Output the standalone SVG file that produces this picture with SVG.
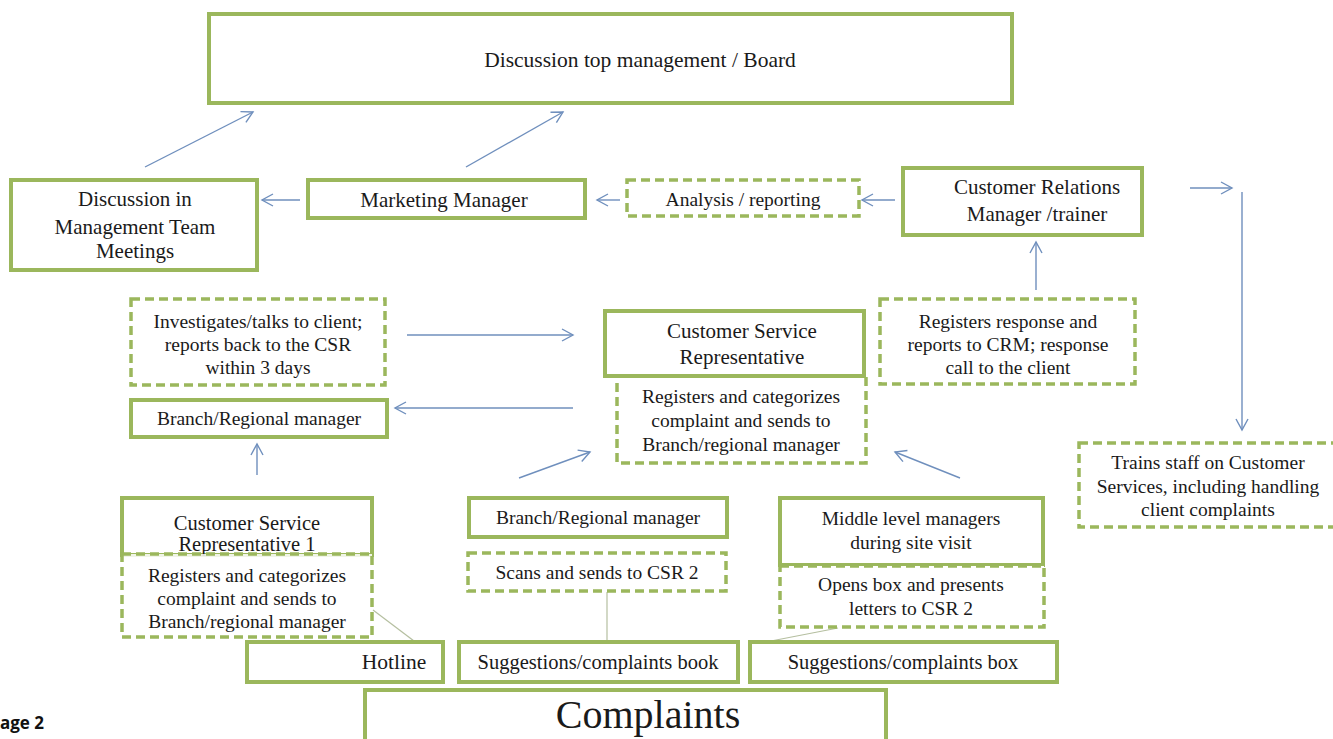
<svg xmlns="http://www.w3.org/2000/svg" width="1333" height="739" viewBox="0 0 1333 739">
<defs>
<marker id="ah" markerUnits="userSpaceOnUse" markerWidth="14" markerHeight="14" refX="12" refY="7" orient="auto" viewBox="0 0 14 14">
<path d="M1,1 L12,7 L1,13" fill="none" stroke="#6f8fbd" stroke-width="1.4"/>
</marker>
<style>
.s{fill:#fff;stroke:#9bb75c;stroke-width:4}
.d{fill:#fff;stroke:#9bb75c;stroke-width:3.5;stroke-dasharray:9 5}
.t{font-family:"Liberation Serif","Times New Roman",serif;font-size:20px;fill:#1a1a1a;text-anchor:middle}
.a{fill:none;stroke:#6f8fbd;stroke-width:1.4;marker-end:url(#ah)}
.g{fill:none;stroke:#b5bfa0;stroke-width:1.2}
</style>
</defs>
<rect width="1333" height="739" fill="#fff"/>

<g id="connectors">
<line class="a" x1="145" y1="167" x2="253" y2="112"/>
<line class="a" x1="466" y1="167" x2="563" y2="112"/>
<line class="a" x1="300" y1="200" x2="262" y2="200"/>
<line class="a" x1="620" y1="200" x2="597" y2="200"/>
<line class="a" x1="895" y1="200" x2="862" y2="200"/>
<line class="a" x1="1190" y1="188" x2="1232" y2="188"/>
<line class="a" x1="1242" y1="192" x2="1242" y2="430"/>
<line class="a" x1="1036" y1="290" x2="1036" y2="242"/>
<line class="a" x1="407" y1="335" x2="573" y2="335"/>
<line class="a" x1="573" y1="408" x2="395" y2="408"/>
<line class="a" x1="257" y1="475" x2="257" y2="444"/>
<line class="a" x1="519" y1="478" x2="590" y2="452"/>
<line class="a" x1="960" y1="478" x2="895" y2="452"/>
<line class="g" x1="373" y1="610" x2="414" y2="641"/>
<line class="g" x1="607" y1="592" x2="607" y2="642"/>
<line class="g" x1="771" y1="641" x2="838" y2="628"/>
</g>

<g id="board"><rect class="s" x="209" y="14" width="803" height="89"/><text class="t" x="640" y="67" style="font-size:21.5px">Discussion top management / Board</text></g>

<g id="mgmt-team"><rect class="s" x="11" y="180" width="246" height="90"/>
<text class="t" x="135" y="206" style="font-size:21px">Discussion in</text>
<text class="t" x="135" y="234" style="font-size:21px">Management Team</text>
<text class="t" x="135" y="258" style="font-size:21px">Meetings</text></g>

<g id="marketing"><rect class="s" x="308" y="180" width="277" height="38"/><text class="t" x="444" y="207" style="font-size:21px">Marketing Manager</text></g>

<g id="analysis"><rect class="d" x="627" y="180" width="232" height="36"/><text class="t" x="743" y="206" style="font-size:19.5px">Analysis / reporting</text></g>

<g id="crm"><rect class="s" x="903" y="168" width="239" height="67"/>
<text class="t" x="1037" y="194" style="font-size:21px">Customer Relations</text>
<text class="t" x="1037" y="221" style="font-size:21px">Manager /trainer</text></g>

<g id="investigates"><rect class="d" x="131" y="299" width="254" height="86"/>
<text class="t" x="258" y="328" style="font-size:19.5px">Investigates/talks to client;</text>
<text class="t" x="258" y="351" style="font-size:19.5px">reports back to the CSR</text>
<text class="t" x="258" y="374" style="font-size:19.5px">within 3  days</text></g>

<g id="branch-left"><rect class="s" x="131" y="400" width="256" height="37"/><text class="t" x="259" y="425" style="font-size:19.5px">Branch/Regional  manager</text></g>

<g id="registers-center"><rect class="d" x="617" y="374" width="249" height="89"/>
<text class="t" x="741" y="403" style="font-size:19.5px">Registers and categorizes</text>
<text class="t" x="741" y="427" style="font-size:19.5px">complaint  and sends to</text>
<text class="t" x="741" y="451" style="font-size:19.5px">Branch/regional manager</text></g>

<g id="csr"><rect class="s" x="605" y="311" width="259" height="65"/>
<text class="t" x="742" y="338" style="font-size:21px">Customer Service</text>
<text class="t" x="742" y="364" style="font-size:21px">Representative</text></g>

<g id="registers-response"><rect class="d" x="880" y="299" width="255" height="85"/>
<text class="t" x="1008" y="328" style="font-size:19.5px">Registers response and</text>
<text class="t" x="1008" y="351" style="font-size:19.5px">reports to CRM;  response</text>
<text class="t" x="1008" y="374" style="font-size:19.5px">call  to the client</text></g>

<g id="trains"><rect class="d" x="1079" y="443" width="262" height="84"/>
<text class="t" x="1208" y="469" style="font-size:19.5px">Trains staff on Customer</text>
<text class="t" x="1208" y="493" style="font-size:19.5px">Services, including handling</text>
<text class="t" x="1208" y="516" style="font-size:19.5px">client complaints</text></g>

<g id="csr1"><rect class="s" x="122" y="498" width="250" height="57"/>
<text class="t" x="247" y="530" style="font-size:20.5px">Customer Service</text>
<text class="t" x="247" y="551" style="font-size:20.5px">Representative  1</text></g>

<g id="registers-csr1"><rect class="d" x="122" y="554" width="250" height="83" fill-opacity="0.85"/>
<text class="t" x="247" y="582" style="font-size:19.5px">Registers and categorizes</text>
<text class="t" x="247" y="605" style="font-size:19.5px">complaint  and sends to</text>
<text class="t" x="247" y="628" style="font-size:19.5px">Branch/regional manager</text></g>

<g id="branch-mid"><rect class="s" x="469" y="498" width="258" height="39"/><text class="t" x="598" y="524" style="font-size:19.5px">Branch/Regional manager</text></g>

<g id="scans"><rect class="d" x="468" y="553" width="258" height="38"/><text class="t" x="597" y="579" style="font-size:19.5px">Scans and sends to CSR  2</text></g>

<g id="middle-managers"><rect class="s" x="780" y="498" width="263" height="67"/>
<text class="t" x="911" y="525" style="font-size:19.5px">Middle level managers</text>
<text class="t" x="911" y="549" style="font-size:19.5px">during site visit</text></g>

<g id="opens-box"><rect class="d" x="780" y="566" width="264" height="61"/>
<text class="t" x="911" y="591" style="font-size:19.5px">Opens box  and presents</text>
<text class="t" x="911" y="615" style="font-size:19.5px">letters to CSR  2</text></g>

<g id="hotline"><rect class="s" x="247" y="642" width="196" height="40"/><text class="t" x="394" y="669" style="font-size:21.5px">Hotline</text></g>

<g id="book"><rect class="s" x="459" y="642" width="279" height="40"/><text class="t" x="598" y="669" style="font-size:20.5px">Suggestions/complaints book</text></g>

<g id="box"><rect class="s" x="750" y="642" width="307" height="40"/><text class="t" x="903" y="669" style="font-size:20.5px">Suggestions/complaints box</text></g>

<g id="complaints"><rect class="s" x="365" y="690" width="521" height="60"/><text class="t" x="648" y="728" style="font-size:40px">Complaints</text></g>

<text x="0" y="729" style="font-family:'Open Sans','Noto Sans',sans-serif;font-size:17px;font-weight:bold;fill:#111">age 2</text>
</svg>
